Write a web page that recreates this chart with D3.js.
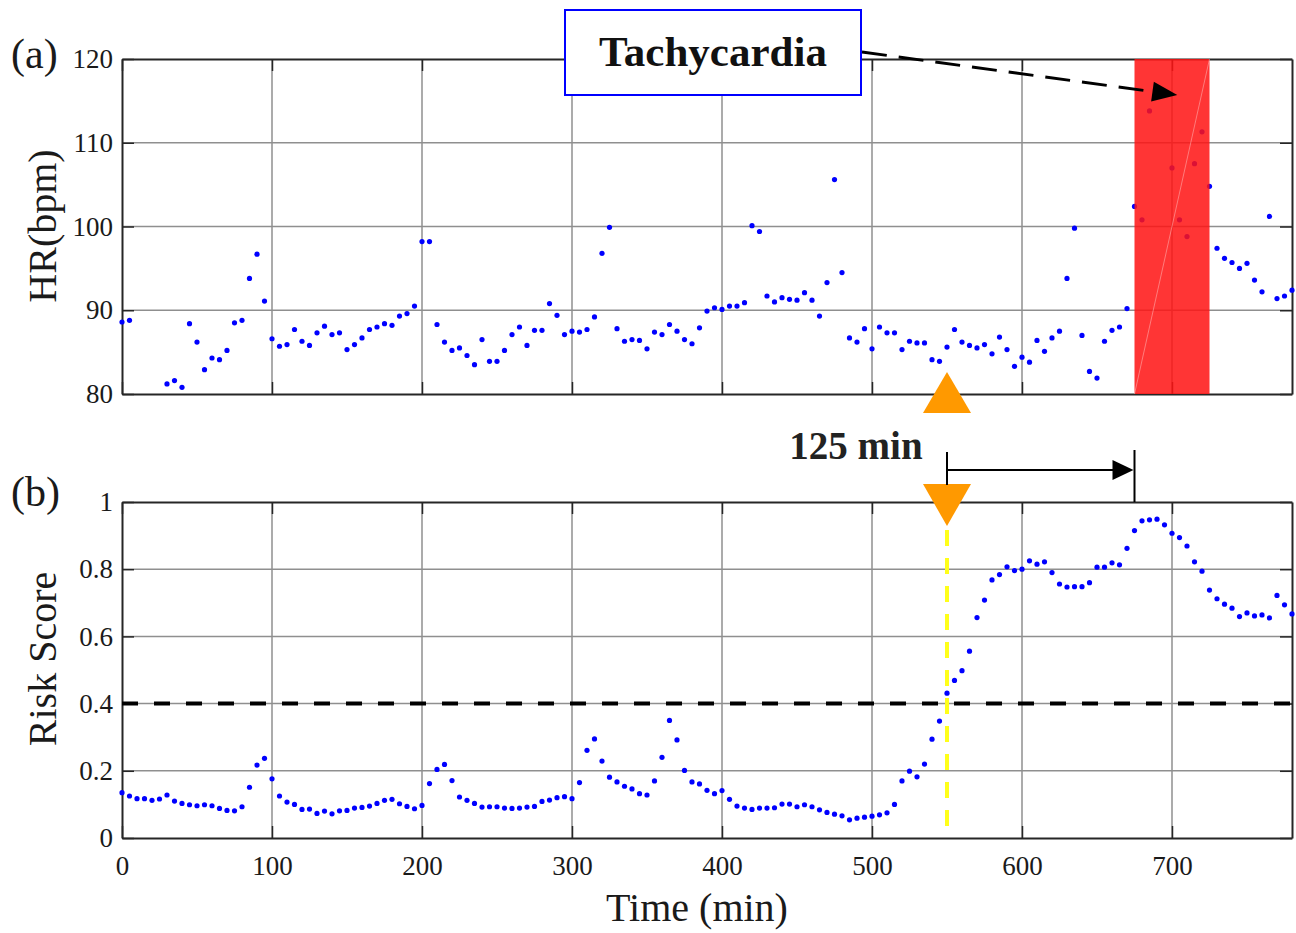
<!DOCTYPE html>
<html><head><meta charset="utf-8">
<script src="https://cdn.jsdelivr.net/npm/d3@7"></script>
<style>body{margin:0;background:#fff}svg{display:block}</style>
</head><body><svg id="c" width="1296" height="933"></svg>
<script>
const hrTime = [0,5,30,35,40,45,50,55,60,65,70,75,80,85,90,95,100,105,110,115,120,125,130,135,140,145,150,155,160,165,170,175,180,185,190,195,200,205,210,215,220,225,230,235,240,245,250,255,260,265,270,275,280,285,290,295,300,305,310,315,320,325,330,335,340,345,350,355,360,365,370,375,380,385,390,395,400,405,410,415,420,425,430,435,440,445,450,455,460,465,470,475,480,485,490,495,500,505,510,515,520,525,530,535,540,545,550,555,560,565,570,575,580,585,590,595,600,605,610,615,620,625,630,635,640,645,650,655,660,665,670,675,680,685,700,705,710,715,720,725,730,735,740,745,750,755,760,765,770,775,780];
const hrValue = [88.6,88.8,81.2,81.6,80.8,88.4,86.2,82.9,84.3,84.1,85.2,88.5,88.8,93.8,96.7,91.1,86.6,85.7,85.9,87.7,86.3,85.8,87.3,88.1,87.1,87.3,85.3,85.9,86.7,87.7,88.0,88.4,88.2,89.3,89.6,90.5,98.2,98.2,88.3,86.2,85.2,85.5,84.6,83.5,86.5,83.9,83.9,85.2,87.1,88.0,85.8,87.6,87.6,90.8,89.4,87.1,87.5,87.4,87.7,89.2,96.8,99.9,87.8,86.3,86.5,86.4,85.4,87.4,87.1,88.3,87.5,86.5,86.0,87.9,89.9,90.3,90.1,90.5,90.5,90.9,100.1,99.4,91.7,91.0,91.5,91.3,91.2,92.1,91.2,89.3,93.3,105.6,94.5,86.7,86.2,87.8,85.4,88.0,87.3,87.3,85.3,86.3,86.1,86.1,84.1,83.9,85.6,87.7,86.2,85.8,85.5,85.9,84.8,86.8,85.3,83.3,84.4,83.8,86.4,85.1,86.7,87.5,93.8,99.8,87.0,82.7,81.9,86.3,87.6,88.0,90.2,102.4,100.8,113.8,107.0,100.8,98.8,107.5,111.3,104.8,97.4,96.2,95.7,95.0,95.6,93.6,92.2,101.2,91.4,91.7,92.4];

const riskTime = [0,5,10,15,20,25,30,35,40,45,50,55,60,65,70,75,80,85,90,95,100,105,110,115,120,125,130,135,140,145,150,155,160,165,170,175,180,185,190,195,200,205,210,215,220,225,230,235,240,245,250,255,260,265,270,275,280,285,290,295,300,305,310,315,320,325,330,335,340,345,350,355,360,365,370,375,380,385,390,395,400,405,410,415,420,425,430,435,440,445,450,455,460,465,470,475,480,485,490,495,500,505,510,515,520,525,530,535,540,545,550,555,560,565,570,575,580,585,590,595,600,605,610,615,620,625,630,635,640,645,650,655,660,665,670,675,680,685,690,695,700,705,710,715,720,725,730,735,740,745,750,755,760,765,770,775,780];
const riskValue = [.135,.125,.117,.117,.112,.116,.128,.110,.103,.099,.096,.099,.096,.088,.082,.081,.093,.151,.217,.237,.176,.125,.107,.100,.085,.086,.073,.080,.072,.081,.082,.089,.091,.095,.103,.112,.115,.102,.094,.087,.097,.162,.204,.219,.171,.122,.112,.103,.092,.093,.093,.089,.088,.089,.092,.094,.109,.113,.120,.123,.117,.165,.261,.295,.229,.181,.167,.154,.146,.132,.128,.170,.240,.350,.292,.201,.167,.161,.142,.132,.141,.115,.095,.089,.085,.089,.089,.090,.101,.101,.093,.099,.093,.084,.076,.071,.066,.054,.059,.062,.065,.069,.075,.100,.170,.199,.182,.220,.294,.348,.431,.469,.498,.556,.656,.708,.768,.784,.807,.796,.800,.825,.815,.822,.790,.756,.747,.748,.748,.760,.806,.806,.819,.813,.862,.915,.944,.947,.949,.932,.907,.894,.869,.822,.794,.738,.712,.696,.684,.659,.670,.661,.664,.655,.722,.694,.667];

const xTicks = [0,100,200,300,400,500,600,700];
const hrTicks = [80,90,100,110,120];
const riskTicks = [0,0.2,0.4,0.6,0.8,1];
const riskThreshold = 0.4;
const alarmTime = 550;
const tachyStart = 675, tachyEnd = 725;
const leadLabel = "125 min";

const svg = d3.select("#c");
const serif = "'Liberation Serif','Times New Roman',serif";
const L = 122, R = 1292;
const x = d3.scaleLinear().domain([0,780]).range([L,R]);
const yTop = d3.scaleLinear().domain([80,120]).range([394,59]);
const yBot = d3.scaleLinear().domain([0,1]).range([838,502]);

const gridColor = "#8f8f8f", axisColor = "#262626";

function panel(y, yticks, fmt, showX) {
  const g = svg.append("g");
  const [y0, y1] = y.range();
  g.selectAll(".gx").data(xTicks.filter(d=>d>0)).join("line")
    .attr("x1",d=>x(d)).attr("x2",d=>x(d)).attr("y1",y1).attr("y2",y0)
    .attr("stroke",gridColor).attr("stroke-width",1.5);
  g.selectAll(".gy").data(yticks.slice(1,-1)).join("line")
    .attr("x1",L).attr("x2",R).attr("y1",d=>y(d)).attr("y2",d=>y(d))
    .attr("stroke",gridColor).attr("stroke-width",1.5);
  const ax = g.append("g").attr("transform",`translate(0,${y0})`)
    .call(d3.axisBottom(x).tickValues(xTicks).tickSizeInner(-12).tickSizeOuter(0).tickPadding(18).tickFormat(showX?d3.format("d"):""));
  const axT = g.append("g").attr("transform",`translate(0,${y1})`)
    .call(d3.axisTop(x).tickValues(xTicks).tickSizeInner(-12).tickSizeOuter(0).tickFormat(""));
  const ay = g.append("g").attr("transform",`translate(${L},0)`)
    .call(d3.axisLeft(y).tickValues(yticks).tickSizeInner(-12).tickSizeOuter(0).tickPadding(9).tickFormat(fmt));
  const ayR = g.append("g").attr("transform",`translate(${R},0)`)
    .call(d3.axisRight(y).tickValues(yticks).tickSizeInner(-12).tickSizeOuter(0).tickFormat(""));
  [ax,axT,ay,ayR].forEach(a=>{
    a.select(".domain").attr("stroke",axisColor).attr("stroke-width",2);
    a.selectAll(".tick line").attr("stroke",axisColor).attr("stroke-width",1.5);
    a.selectAll("text").attr("font-family",serif).attr("font-size",27).attr("fill","#1a1a1a");
  });
  return g;
}

panel(yTop, hrTicks, d3.format("d"), false);
panel(yBot, riskTicks, d=>d===0?"0":d===1?"1":d3.format(".1f")(d), true);

svg.append("g").selectAll("circle").data(hrTime.map((t,i)=>[t,hrValue[i]])).join("circle")
  .attr("cx",d=>x(d[0])).attr("cy",d=>yTop(d[1])).attr("r",2.6).attr("fill","#0000ff");

svg.append("rect").attr("x",x(tachyStart)).attr("y",yTop(120)).attr("width",x(tachyEnd)-x(tachyStart))
  .attr("height",yTop(80)-yTop(120)).attr("fill","#ff1414").attr("opacity",0.86);
svg.append("line").attr("x1",x(tachyStart)).attr("y1",yTop(80)).attr("x2",x(tachyEnd)).attr("y2",yTop(120))
  .attr("stroke","#ffffff").attr("stroke-opacity",0.35).attr("stroke-width",1);

svg.append("g").selectAll("circle").data(riskTime.map((t,i)=>[t,riskValue[i]])).join("circle")
  .attr("cx",d=>x(d[0])).attr("cy",d=>yBot(d[1])).attr("r",2.6).attr("fill","#0000ff");

svg.append("line").attr("x1",L).attr("x2",R).attr("y1",yBot(riskThreshold)).attr("y2",yBot(riskThreshold))
  .attr("stroke","#000").attr("stroke-width",4).attr("stroke-dasharray","16,16");

const xa = x(alarmTime);
svg.append("line").attr("x1",xa).attr("x2",xa).attr("y1",530).attr("y2",yBot(0))
  .attr("stroke","#ffff1a").attr("stroke-width",4).attr("stroke-dasharray","16,12");

svg.append("path").attr("d",`M${xa},372 L${xa+24},413 L${xa-24},413 Z`).attr("fill","#ff9900");
svg.append("path").attr("d",`M${xa-24},484 L${xa+24},484 L${xa},526 Z`).attr("fill","#ff9900");

const xe = x(tachyStart);
svg.append("line").attr("x1",xa).attr("x2",xa).attr("y1",452).attr("y2",485).attr("stroke","#000").attr("stroke-width",2);
svg.append("line").attr("x1",xe).attr("x2",xe).attr("y1",450).attr("y2",502).attr("stroke","#000").attr("stroke-width",2);
svg.append("line").attr("x1",xa).attr("x2",xe-18).attr("y1",470).attr("y2",470).attr("stroke","#000").attr("stroke-width",2);
svg.append("path").attr("d",`M${xe-1},470 L${xe-22},460 L${xe-22},480 Z`).attr("fill","#000");
svg.append("text").attr("x",856).attr("y",459).attr("text-anchor","middle")
  .attr("font-family",serif).attr("font-weight","bold").attr("font-size",39).attr("fill","#222").text(leadLabel);

const tipX = x(703.5), tipY = yTop(115.7);
svg.append("line").attr("x1",862).attr("y1",52).attr("x2",tipX-24).attr("y2",tipY-3.3)
  .attr("stroke","#000").attr("stroke-width",3).attr("stroke-dasharray","25,12");
(function(){
  const ang = Math.atan2(tipY-52, tipX-862);
  const len=25, hw=10;
  const bx = tipX - len*Math.cos(ang), by = tipY - len*Math.sin(ang);
  const px = -Math.sin(ang)*hw, py = Math.cos(ang)*hw;
  svg.append("path").attr("d",`M${tipX},${tipY} L${bx+px},${by+py} L${bx-px},${by-py} Z`).attr("fill","#000");
})();
svg.append("rect").attr("x",565).attr("y",10).attr("width",296).attr("height",85)
  .attr("fill","#fff").attr("stroke","#0000ff").attr("stroke-width",2);
svg.append("text").attr("x",713).attr("y",66).attr("text-anchor","middle")
  .attr("font-family",serif).attr("font-weight","bold").attr("font-size",43).attr("fill","#111").text("Tachycardia");

svg.append("text").attr("x",11).attr("y",68).attr("font-family",serif).attr("font-size",42).attr("fill","#1a1a1a").text("(a)");
svg.append("text").attr("x",11).attr("y",506).attr("font-family",serif).attr("font-size",42).attr("fill","#1a1a1a").text("(b)");
svg.append("text").attr("transform","translate(56,226) rotate(-90)").attr("text-anchor","middle")
  .attr("font-family",serif).attr("font-size",40).attr("fill","#1a1a1a").text("HR(bpm)");
svg.append("text").attr("transform","translate(56,659) rotate(-90)").attr("text-anchor","middle")
  .attr("font-family",serif).attr("font-size",40).attr("fill","#1a1a1a").text("Risk Score");
svg.append("text").attr("x",697).attr("y",921).attr("text-anchor","middle")
  .attr("font-family",serif).attr("font-size",40).attr("fill","#1a1a1a").text("Time (min)");
</script></body></html>
